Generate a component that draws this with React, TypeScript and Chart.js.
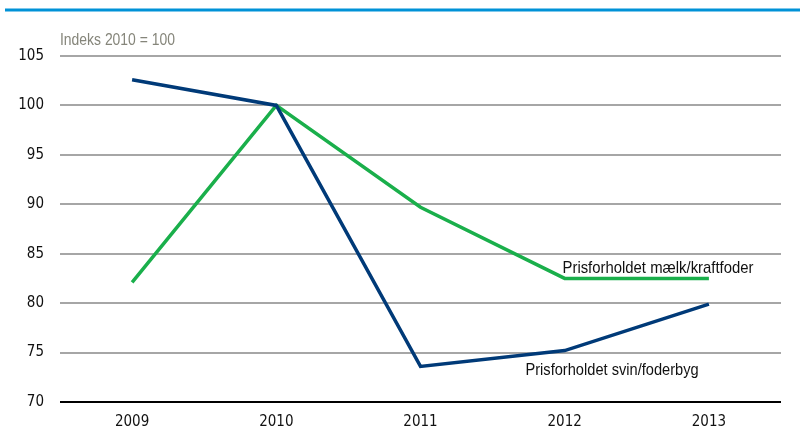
import React, { useEffect, useRef } from "react";
import { Chart, registerables } from "chart.js";

Chart.register(...registerables);

const categories = ["2009", "2010", "2011", "2012", "2013"];
const svinFoderbyg = [102.6, 100, 73.6, 75.2, 79.9];
const maelkKraftfoder = [82.1, 100, 89.7, 82.5, 82.5];
const yMin = 70;
const yMax = 105;
const yStep = 5;
const unitLabel = "Indeks 2010 = 100";
const labelMaelk = "Prisforholdet mælk/kraftfoder";
const labelSvin = "Prisforholdet svin/foderbyg";

const FONT = "'DejaVu Sans Condensed', 'Liberation Sans', sans-serif";
const TEXT_FONT = "'Liberation Sans', Arial, sans-serif";
const BLUE = "#003a78";
const GREEN = "#1aaf4b";

function narrowText(ctx: any, text: string, x: number, y: number, sx: number) {
  ctx.save();
  ctx.translate(x, y);
  ctx.scale(sx, 1);
  ctx.fillText(text, 0, 0);
  ctx.restore();
}

const overlay = {
  id: "overlay",
  afterDraw(chart: any) {
    const ctx = chart.ctx;
    const x = chart.scales.x;
    const y = chart.scales.y;
    ctx.save();
    ctx.fillStyle = "#0092d7";
    ctx.fillRect(5, 8.5, 795, 3);
    ctx.textBaseline = "middle";
    ctx.textAlign = "left";
    ctx.fillStyle = "#85857a";
    ctx.font = `16px ${TEXT_FONT}`;
    narrowText(ctx, unitLabel, chart.chartArea.left, 41, 0.87);
    ctx.fillStyle = "#111";
    ctx.font = `17px ${TEXT_FONT}`;
    narrowText(ctx, labelMaelk, x.getPixelForValue(2) + 142, y.getPixelForValue(83.5), 0.875);
    narrowText(ctx, labelSvin, x.getPixelForValue(2) + 105, y.getPixelForValue(73.2), 0.86);
    ctx.restore();
  },
};

export default function App() {
  const ref = useRef<HTMLCanvasElement>(null);
  useEffect(() => {
    const chart = new Chart(ref.current!, {
      type: "line",
      data: {
        labels: categories,
        datasets: [
          {
            label: labelSvin,
            data: svinFoderbyg,
            borderColor: BLUE,
            borderWidth: 3.5,
            pointRadius: 0,
            tension: 0,
          },
          {
            label: labelMaelk,
            data: maelkKraftfoder,
            borderColor: GREEN,
            borderWidth: 3.5,
            pointRadius: 0,
            tension: 0,
          },
        ],
      },
      options: {
        animation: false,
        responsive: false,
        layout: { padding: { top: 56, right: 26, left: 0, bottom: 0 } },
        plugins: { legend: { display: false }, tooltip: { enabled: false } },
        scales: {
          x: {
            offset: true,
            grid: { display: false, drawTicks: false },
            border: { display: false },
            ticks: { color: "#111", font: { family: FONT, size: 15 }, padding: 11 },
            afterFit: (s: any) => {
              s.height = 35;
            },
          },
          y: {
            min: yMin,
            max: yMax,
            ticks: {
              stepSize: yStep,
              color: "#111",
              font: { family: FONT, size: 15 },
              padding: 16,
            },
            grid: {
              drawTicks: false,
              lineWidth: 2,
              color: (c: any) => (c.tick && c.tick.value === yMin ? "#000" : "#a6a6a6"),
            },
            border: { display: false },
            afterFit: (s: any) => {
              s.width = 60;
            },
          },
        },
      },
      plugins: [overlay],
    });
    return () => chart.destroy();
  }, []);
  return (
    <div style={{ position: "absolute", left: 0, top: 0, width: 807, height: 437, background: "#fff" }}>
      <canvas ref={ref} width={807} height={437} style={{ width: 807, height: 437 }} />
    </div>
  );
}
